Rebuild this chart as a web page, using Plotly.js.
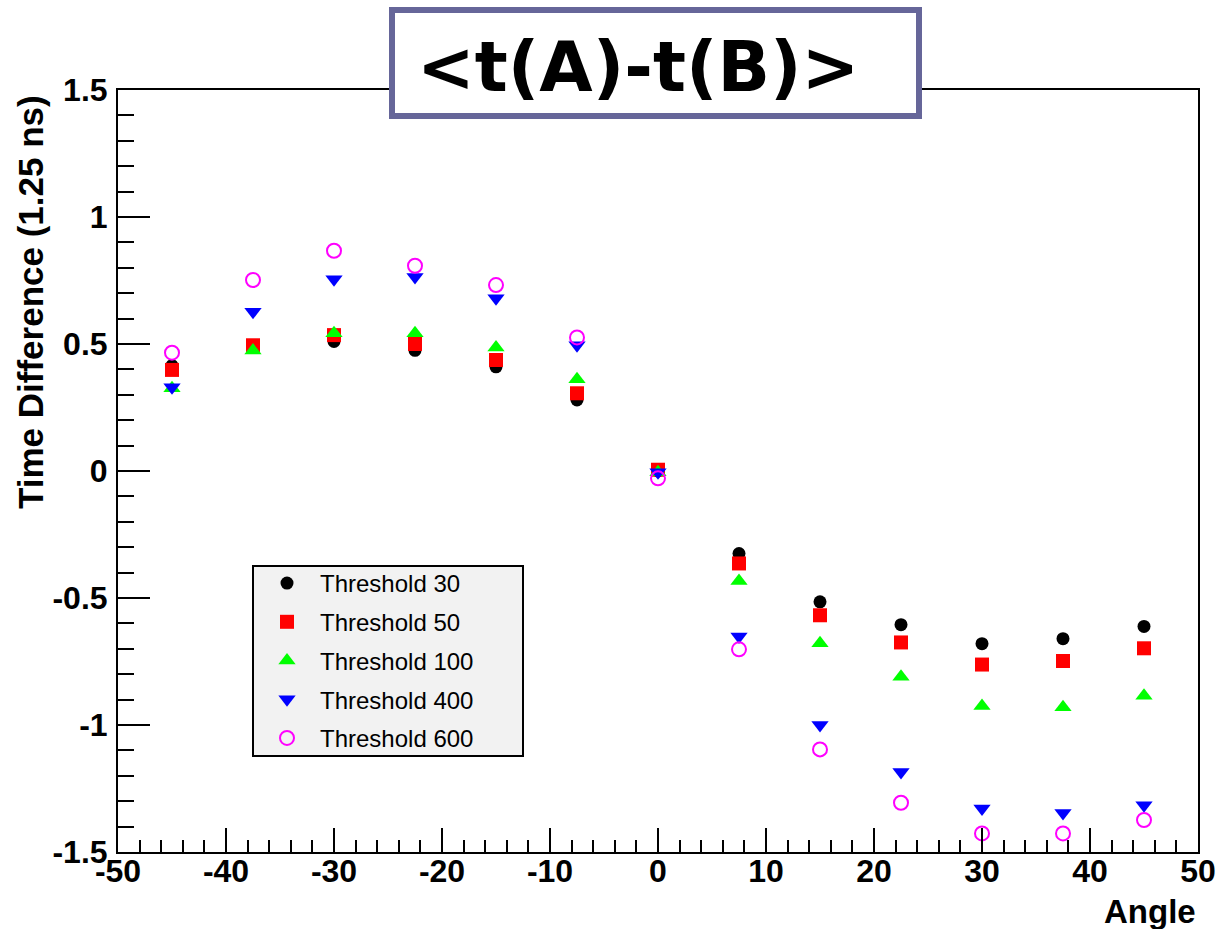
<!DOCTYPE html>
<html>
<head>
<meta charset="utf-8">
<script src="https://cdn.plot.ly/plotly-3.0.1.min.js"></script>
<style>html,body{margin:0;padding:0;background:#fff;}#chart{width:1218px;height:929px;}</style>
</head>
<body>
<div id="chart"></div>
<script>
const angles = [-45, -37.5, -30, -22.5, -15, -7.5, 0, 7.5, 15, 22.5, 30, 37.5, 45];
const thr30  = [0.415, 0.49, 0.51, 0.475, 0.41, 0.28, 0.0, -0.325, -0.515, -0.605, -0.68, -0.66, -0.612];
const thr50  = [0.398, 0.495, 0.535, 0.5, 0.437, 0.306, 0.005, -0.364, -0.568, -0.675, -0.762, -0.748, -0.698];
const thr100 = [0.326, 0.474, 0.542, 0.542, 0.486, 0.361, -0.005, -0.433, -0.678, -0.81, -0.925, -0.93, -0.885];
const thr400 = [0.33, 0.627, 0.755, 0.764, 0.68, 0.495, -0.005, -0.652, -1.0, -1.185, -1.329, -1.346, -1.316];
const thr600 = [0.466, 0.752, 0.867, 0.808, 0.732, 0.526, -0.029, -0.702, -1.096, -1.306, -1.427, -1.427, -1.374];
const seriesNames = ["Threshold 30", "Threshold 50", "Threshold 100", "Threshold 400", "Threshold 600"];
const xTickVals = [-50, -40, -30, -20, -10, 0, 10, 20, 30, 40, 50];
const xTickText = ["-50", "-40", "-30", "-20", "-10", "0", "10", "20", "30", "40", "50"];
const yTickVals = [-1.5, -1, -0.5, 0, 0.5, 1, 1.5];
const yTickText = ["-1.5", "-1", "-0.5", "0", "0.5", "1", "1.5"];
const titleText = "<t(A)-t(B)>";
const xTitle = "Angle";
const yTitle = "Time Difference (1.25 ns)";

const styles = [
  {symbol: "circle", color: "#000000", size: 13},
  {symbol: "square", color: "#ff0000", size: 14},
  {symbol: "triangle-up", color: "#00ff00", size: 15},
  {symbol: "triangle-down", color: "#0000ff", size: 15},
  {symbol: "circle-open", color: "#ff00ff", size: 14}
];
const allY = [thr30, thr50, thr100, thr400, thr600];

const traces = allY.map((ys, i) => ({
  type: "scatter", mode: "markers", x: angles, y: ys, name: seriesNames[i],
  legendgroup: "g" + i,
  marker: {symbol: styles[i].symbol, color: styles[i].color, size: styles[i].size,
           line: {width: i === 4 ? 2 : 0, color: styles[i].color}}
}));

const L = 118, R = 1198, T = 90, B = 852;
const px = v => (v - L) / (R - L);
const py = v => (B - v) / (B - T);

const tickFont = {family: "Liberation Sans, Arial, sans-serif", size: 32, color: "#000", weight: "bold"};

const layout = {
  width: 1218, height: 929,
  margin: {l: L, r: 1218 - R, t: T, b: 929 - B, pad: 0},
  paper_bgcolor: "#fff", plot_bgcolor: "#fff",
  showlegend: true,
  xaxis: {
    range: [-50, 50], tickmode: "array", tickvals: xTickVals, ticktext: xTickText,
    ticks: "inside", ticklen: 24, tickwidth: 2, tickcolor: "#000",
    showline: true, linewidth: 2, linecolor: "#000", mirror: true, showgrid: false, zeroline: false,
    tickfont: tickFont, ticklabelstandoff: -10,
    minor: {tickmode: "linear", tick0: -50, dtick: 2, ticks: "inside", ticklen: 12, tickwidth: 2, tickcolor: "#000", showgrid: false}
  },
  yaxis: {
    range: [-1.5, 1.5], tickmode: "array", tickvals: yTickVals, ticktext: yTickText,
    ticks: "inside", ticklen: 32, tickwidth: 2, tickcolor: "#000",
    showline: true, linewidth: 2, linecolor: "#000", mirror: true, showgrid: false, zeroline: false,
    tickfont: tickFont, ticklabelstandoff: 2,
    minor: {tickmode: "linear", tick0: -1.5, dtick: 0.1, ticks: "inside", ticklen: 16, tickwidth: 2, tickcolor: "#000", showgrid: false}
  },
  legend: {
    x: px(254), y: py(561), xanchor: "left", yanchor: "top",
    bgcolor: "rgba(0,0,0,0)", borderwidth: 0,
    traceorder: "grouped", tracegroupgap: 4.5, itemwidth: 56,
    font: {family: "Liberation Sans, Arial, sans-serif", size: 24, color: "#000"}
  },
  shapes: [
    {type: "rect", xref: "paper", yref: "paper", x0: px(253), x1: px(523), y0: py(756), y1: py(566),
     fillcolor: "#f2f2f2", line: {color: "#000", width: 2}, layer: "below"},
    {type: "rect", xref: "paper", yref: "paper", x0: px(392), x1: px(919), y0: py(116), y1: py(10),
     fillcolor: "#ffffff", line: {color: "#666699", width: 6}, layer: "above"}
  ],
  annotations: [
    {text: titleText.replace(/</g, "&lt;").replace(/>/g, "&gt;"), xref: "paper", yref: "paper",
     x: px(637.5), y: py(67), xanchor: "center", yanchor: "middle", showarrow: false,
     font: {family: "DejaVu Sans, sans-serif", size: 69, color: "#000", weight: "bold"}},
    {text: xTitle, xref: "paper", yref: "paper", x: 1, y: py(911), xanchor: "right", yanchor: "middle",
     showarrow: false, font: {family: "Liberation Sans, Arial, sans-serif", size: 33, color: "#000", weight: "bold"}},
    {text: yTitle, xref: "paper", yref: "paper", x: px(30), y: py(302), xanchor: "center", yanchor: "middle",
     textangle: -90, showarrow: false,
     font: {family: "Liberation Sans, Arial, sans-serif", size: 35, color: "#000", weight: "bold"}}
  ]
};

Plotly.newPlot("chart", traces, layout, {displayModeBar: false, staticPlot: true});
</script>
</body>
</html>
